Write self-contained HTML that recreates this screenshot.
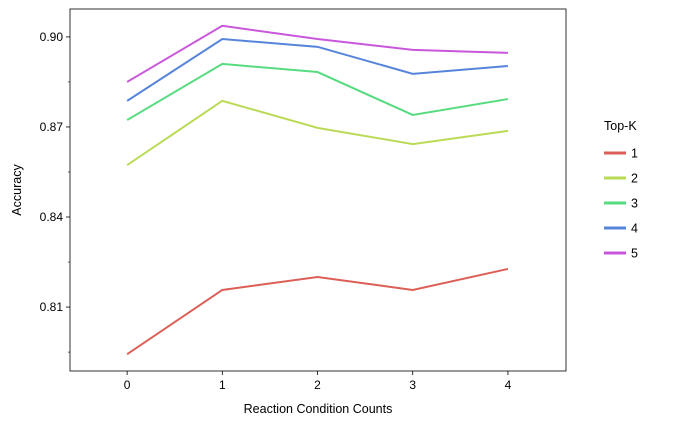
<!DOCTYPE html>
<html><head><meta charset="utf-8"><style>
body{margin:0;background:#fff;}
svg{display:block;font-family:"Liberation Sans","DejaVu Sans",sans-serif;}
</style></head><body>
<svg id="chart" width="679" height="425" viewBox="0 0 679 425" xmlns="http://www.w3.org/2000/svg"></svg>
<script>
const categories=[0,1,2,3,4];
const seriesNames=["1","2","3","4","5"];
const series1=[0.7943,0.8157,0.8200,0.8157,0.8227];
const series2=[0.8573,0.8787,0.8697,0.8643,0.8687];
const series3=[0.8723,0.8910,0.8883,0.8740,0.8793];
const series4=[0.8787,0.8993,0.8967,0.8877,0.8903];
const series5=[0.8850,0.9037,0.8993,0.8957,0.8947];
const yTicks=[0.81,0.84,0.87,0.90];
const yMinor=[0.795,0.825,0.855,0.885];
const colors=["#db5f57","#b9db57","#57db80","#5784db","#c957db"];
const allSeries=[series1,series2,series3,series4,series5];
const L=70,R=566,T=9,B=371;
const xMin=-0.6,xMax=4.61,yMin=0.7887,yMax=0.9093;
const xs=v=>L+(v-xMin)/(xMax-xMin)*(R-L);
const ys=v=>B-(v-yMin)/(yMax-yMin)*(B-T);
const svg=document.getElementById('chart');
const NS="http://www.w3.org/2000/svg";
function mk(tag,attrs,parent){const e=document.createElementNS(NS,tag);for(const k in attrs)e.setAttribute(k,attrs[k]);(parent||svg).appendChild(e);return e;}
// lines
allSeries.forEach((s,i)=>{
  const p=mk('polyline',{points:s.map((v,j)=>xs(categories[j])+','+ys(v)).join(' '),fill:'none',stroke:colors[i],'stroke-width':2});
  
  
});
const frame=mk('rect',{x:L,y:T,width:R-L,height:B-T,fill:'none',stroke:'#000','stroke-width':0.8});


categories.forEach(c=>{
  const x=xs(c);
  mk('line',{x1:x,x2:x,y1:B,y2:B+4,stroke:'#000','stroke-width':0.8});
  const t=mk('text',{x:x,y:B+18,'text-anchor':'middle','font-size':12});
  t.textContent=c;
  
  
});
yTicks.forEach(v=>{
  const y=ys(v);
  mk('line',{x1:L-4,x2:L,y1:y,y2:y,stroke:'#000','stroke-width':0.8});
  const t=mk('text',{x:L-7,y:y+4,'text-anchor':'end','font-size':12});
  t.textContent=v.toFixed(2);
  
  
});
yMinor.forEach(v=>{const y=ys(v);mk('line',{x1:L-2,x2:L,y1:y,y2:y,stroke:'#000','stroke-width':0.6});});
const xt=mk('text',{x:(L+R)/2,y:413,'text-anchor':'middle','font-size':12.5});
xt.textContent='Reaction Condition Counts';


const yt=mk('text',{x:0,y:0,'text-anchor':'middle','font-size':12.5,transform:'translate(21,'+((T+B)/2)+') rotate(-90)'});
yt.textContent='Accuracy';


const lt=mk('text',{x:604,y:130,'font-size':12.5});
lt.textContent='Top-K';


seriesNames.forEach((n,i)=>{
  const y=153+i*25;
  const g=mk('g',{});
  
  
  mk('line',{x1:604,x2:626,y1:y,y2:y,stroke:colors[i],'stroke-width':3},g);
  const t=mk('text',{x:631,y:y+4.5,'font-size':12.5},g);
  t.textContent=n;
});
</script>
</body></html>
